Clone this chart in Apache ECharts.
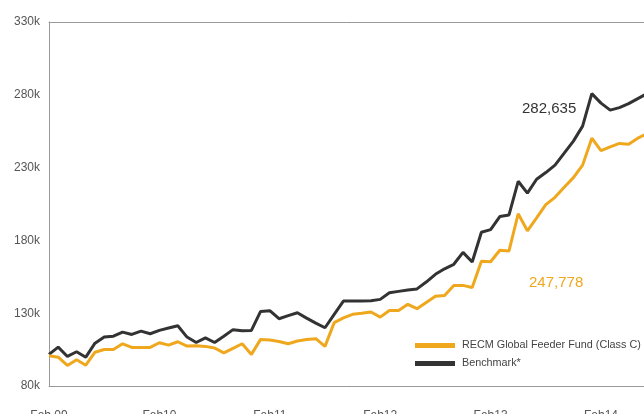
<!DOCTYPE html>
<html>
<head>
<meta charset="utf-8">
<script src="https://cdn.jsdelivr.net/npm/echarts@6/dist/echarts.min.js"></script>
<style>
  html, body { margin: 0; padding: 0; background: #fff; }
  #chart { width: 644px; height: 414px; }
</style>
</head>
<body>
<div id="chart"></div>
<script>
// monthly points, Feb 2009 .. Jul 2014
const months = [
  "Feb 09", "Mar 09", "Apr 09", "May 09", "Jun 09", "Jul 09", "Aug 09", "Sep 09", "Oct 09", "Nov 09", "Dec 09", "Jan 10",
  "Feb 10", "Mar 10", "Apr 10", "May 10", "Jun 10", "Jul 10", "Aug 10", "Sep 10", "Oct 10", "Nov 10", "Dec 10", "Jan 11",
  "Feb 11", "Mar 11", "Apr 11", "May 11", "Jun 11", "Jul 11", "Aug 11", "Sep 11", "Oct 11", "Nov 11", "Dec 11", "Jan 12",
  "Feb 12", "Mar 12", "Apr 12", "May 12", "Jun 12", "Jul 12", "Aug 12", "Sep 12", "Oct 12", "Nov 12", "Dec 12", "Jan 13",
  "Feb 13", "Mar 13", "Apr 13", "May 13", "Jun 13", "Jul 13", "Aug 13", "Sep 13", "Oct 13", "Nov 13", "Dec 13", "Jan 14",
  "Feb 14", "Mar 14", "Apr 14", "May 14", "Jun 14", "Jul 14"
];
const tickLabels = ["Feb 09", "Feb10", "Feb11", "Feb12", "Feb13", "Feb14"];
const yTicks = [80, 130, 180, 230, 280, 330];

// values in thousands
const benchmark = [
  101.7, 106.7, 100.3, 103.5, 99.8, 109.4, 113.6, 114.2, 117.0, 115.4, 117.7, 115.9,
  118.2, 119.8, 121.4, 113.6, 109.9, 113.1, 109.9, 114.2, 118.7, 118.0, 118.2, 131.2,
  131.7, 126.2, 128.3, 130.3, 126.6, 123.2, 120.0, 129.2, 138.3, 138.3, 138.3, 138.5,
  139.5, 144.0, 145.0, 146.0, 146.7, 151.4, 156.7, 160.5, 163.6, 171.8, 165.2, 185.6,
  187.4, 196.4, 197.5, 220.6, 212.5, 222.0, 226.6, 231.7, 239.9, 248.2, 258.5, 280.8,
  274.3, 269.5, 271.2, 273.9, 277.4, 280.8
];
const fund = [
  100.8, 99.8, 94.1, 98.0, 94.3, 103.2, 105.1, 105.1, 109.0, 106.5, 106.5, 106.5,
  109.7, 108.1, 110.4, 107.4, 107.6, 107.2, 106.1, 102.8, 105.9, 109.0, 101.7, 112.0,
  111.6, 110.6, 109.0, 110.9, 112.0, 112.5, 107.2, 123.5, 126.8, 129.2, 129.9, 130.8,
  127.3, 131.9, 131.9, 136.1, 133.1, 137.4, 141.6, 142.2, 149.1, 149.1, 147.7, 165.6,
  165.3, 173.2, 172.8, 198.3, 186.6, 195.5, 204.6, 209.6, 216.5, 223.1, 231.7, 250.2,
  241.6, 244.2, 246.6, 246.1, 250.2, 253.3
];
const benchmarkEnd = "282,635";
const fundEnd = "247,778";

const ORANGE = "#efa81d";
const DARK = "#333333";
const FONT = "'Liberation Sans', Arial, sans-serif";

const chart = echarts.init(document.getElementById("chart"));

const option = {
  animation: false,
  grid: {
    left: 49,
    top: 22,
    width: 598,
    height: 364,
    outerBoundsMode: "none",
    containLabel: false
  },
  legend: {
    orient: "vertical",
    left: 410,
    top: 335,
    icon: "rect",
    itemWidth: 40,
    itemHeight: 5,
    itemGap: 7,
    data: ["RECM Global Feeder Fund (Class C)", "Benchmark*"],
    textStyle: {
      fontFamily: FONT,
      fontSize: 10.8,
      color: "#444",
      padding: [0, 0, 0, 2]
    }
  },
  xAxis: [
    {
      type: "category",
      data: months,
      boundaryGap: false,
      axisLine: { lineStyle: { color: "#999", width: 1 } },
      axisTick: { show: false },
      axisLabel: {
        interval: 11,
        margin: 24,
        color: "#555",
        fontFamily: FONT,
        fontSize: 12,
        formatter: (v, i) => tickLabels[Math.round(i / 12)]
      },
      splitLine: { show: false }
    },
    {
      // top frame line only
      type: "category",
      position: "top",
      data: months,
      boundaryGap: false,
      axisLine: { lineStyle: { color: "#999", width: 1 } },
      axisTick: { show: false },
      axisLabel: { show: false },
      splitLine: { show: false }
    }
  ],
  yAxis: {
    type: "value",
    min: yTicks[0],
    max: yTicks[yTicks.length - 1],
    interval: 50,
    axisLine: { show: true, lineStyle: { color: "#999", width: 1 } },
    axisTick: { show: false },
    splitLine: { show: false },
    axisLabel: {
      margin: 9,
      color: "#555",
      fontFamily: FONT,
      fontSize: 12,
      formatter: "{value}k"
    }
  },
  series: [
    {
      name: "Benchmark*",
      type: "line",
      data: benchmark,
      symbol: "none",
      color: DARK,
      lineStyle: { color: DARK, width: 3 }
    },
    {
      name: "RECM Global Feeder Fund (Class C)",
      type: "line",
      data: fund,
      symbol: "none",
      color: ORANGE,
      lineStyle: { color: ORANGE, width: 3 }
    }
  ],
  graphic: [
    {
      type: "text",
      left: 522,
      top: 101,
      style: { text: benchmarkEnd, fill: DARK, font: "15px " + FONT }
    },
    {
      type: "text",
      left: 529,
      top: 275,
      style: { text: fundEnd, fill: ORANGE, font: "15px " + FONT }
    }
  ]
};

chart.setOption(option);
</script>
</body>
</html>
